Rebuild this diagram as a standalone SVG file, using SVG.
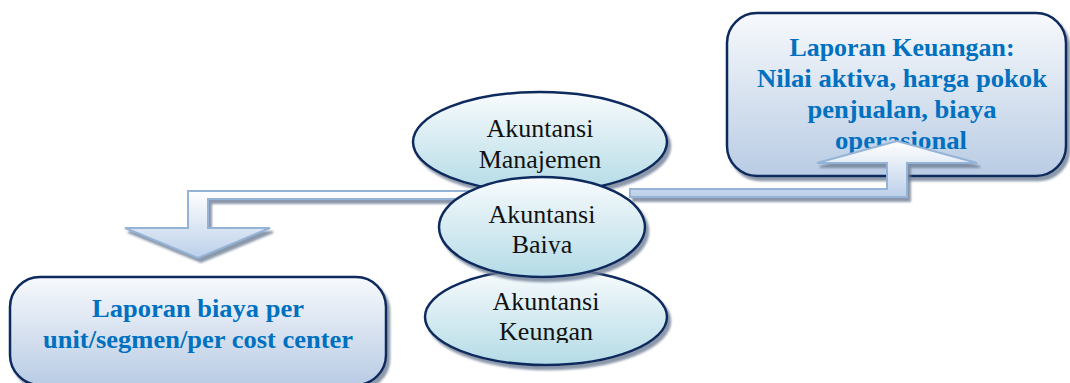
<svg xmlns="http://www.w3.org/2000/svg" width="1070" height="383" viewBox="0 0 1070 383">
  <style>
    .box { stroke: #0f2a5e; stroke-width: 2.5; fill: url(#boxFill); filter: url(#shadow); }
    .oval { stroke: #0f2a5e; stroke-width: 2.5; fill: url(#ovalFill); filter: url(#shadow); }
    .arrow { stroke: #95b3d7; stroke-width: 2; fill: url(#arrowFill); filter: url(#shadow); stroke-linejoin: miter; }
    .report { font-family: "Liberation Serif", "Times New Roman", serif; font-weight: bold; font-size: 26px; fill: #0070c0; text-anchor: middle; }
    .label { font-family: "Liberation Serif", "Times New Roman", serif; font-size: 26px; fill: #111; text-anchor: middle; }
  </style>
  <defs>
    <linearGradient id="boxFill" x1="0" y1="0" x2="0" y2="1">
      <stop offset="0" stop-color="#f7f9fc"/>
      <stop offset="1" stop-color="#b9cce4"/>
    </linearGradient>
    <linearGradient id="ovalFill" x1="0" y1="0" x2="0" y2="1">
      <stop offset="0" stop-color="#f8fbfd"/>
      <stop offset="1" stop-color="#b4dbe6"/>
    </linearGradient>
    <linearGradient id="arrowFill" x1="0" y1="0" x2="0" y2="1">
      <stop offset="0" stop-color="#ffffff"/>
      <stop offset="1" stop-color="#bcd0ea"/>
    </linearGradient>
    <filter id="shadow" x="-10%" y="-10%" width="120%" height="130%">
      <feGaussianBlur in="SourceAlpha" stdDeviation="1"/>
      <feOffset dx="3" dy="4" result="off"/>
      <feFlood flood-color="#6f7f96" flood-opacity="0.8"/>
      <feComposite in2="off" operator="in"/>
      <feMerge>
        <feMergeNode/>
        <feMergeNode in="SourceGraphic"/>
      </feMerge>
    </filter>
    <clipPath id="clipBaiya"><rect x="440" y="170" width="210" height="84"/></clipPath>
    <clipPath id="clipKeungan"><rect x="420" y="260" width="250" height="83"/></clipPath>
  </defs>

  <!-- report boxes -->
  <g id="report-financial">
    <rect class="box" x="727" y="13" width="339" height="163" rx="30"/>
    <text class="report" x="902" y="56" textLength="225" lengthAdjust="spacingAndGlyphs">Laporan Keuangan:</text>
    <text class="report" x="902" y="87" textLength="290" lengthAdjust="spacingAndGlyphs">Nilai aktiva, harga pokok</text>
    <text class="report" x="902" y="118" textLength="189" lengthAdjust="spacingAndGlyphs">penjualan, biaya</text>
    <text class="report" x="901" y="149" textLength="132" lengthAdjust="spacingAndGlyphs">operasional</text>
  </g>
  <g id="report-cost">
    <rect class="box" x="10" y="277" width="376" height="108" rx="30"/>
    <text class="report" x="198" y="317" textLength="212" lengthAdjust="spacingAndGlyphs">Laporan biaya per</text>
    <text class="report" x="198" y="348" textLength="310" lengthAdjust="spacingAndGlyphs">unit/segmen/per cost center</text>
  </g>

  <!-- bent arrows out of the cost accounting node -->
  <g id="connectors">
    <path class="arrow" d="M470,191 H188 V228 H125 L198,258 L270,228 H208 V199 H470 Z"/>
    <path class="arrow" d="M630,189 H887 V163 H817 L897,141 L977,163 H907 V197 H630 Z"/>
  </g>

  <!-- accounting branches -->
  <g id="akuntansi-keuangan">
    <ellipse class="oval" cx="546" cy="317" rx="121" ry="48"/>
    <g clip-path="url(#clipKeungan)">
      <text class="label" x="546" y="310">Akuntansi</text>
      <text class="label" x="546" y="340">Keungan</text>
    </g>
  </g>
  <g id="akuntansi-manajemen">
    <ellipse class="oval" cx="540" cy="142" rx="127" ry="50"/>
    <text class="label" x="540" y="137">Akuntansi</text>
    <text class="label" x="540" y="168">Manajemen</text>
  </g>
  <g id="akuntansi-biaya">
    <ellipse class="oval" cx="542" cy="227" rx="103" ry="50"/>
    <g clip-path="url(#clipBaiya)">
      <text class="label" x="542" y="223">Akuntansi</text>
      <text class="label" x="542" y="253">Baiya</text>
    </g>
  </g>
</svg>
